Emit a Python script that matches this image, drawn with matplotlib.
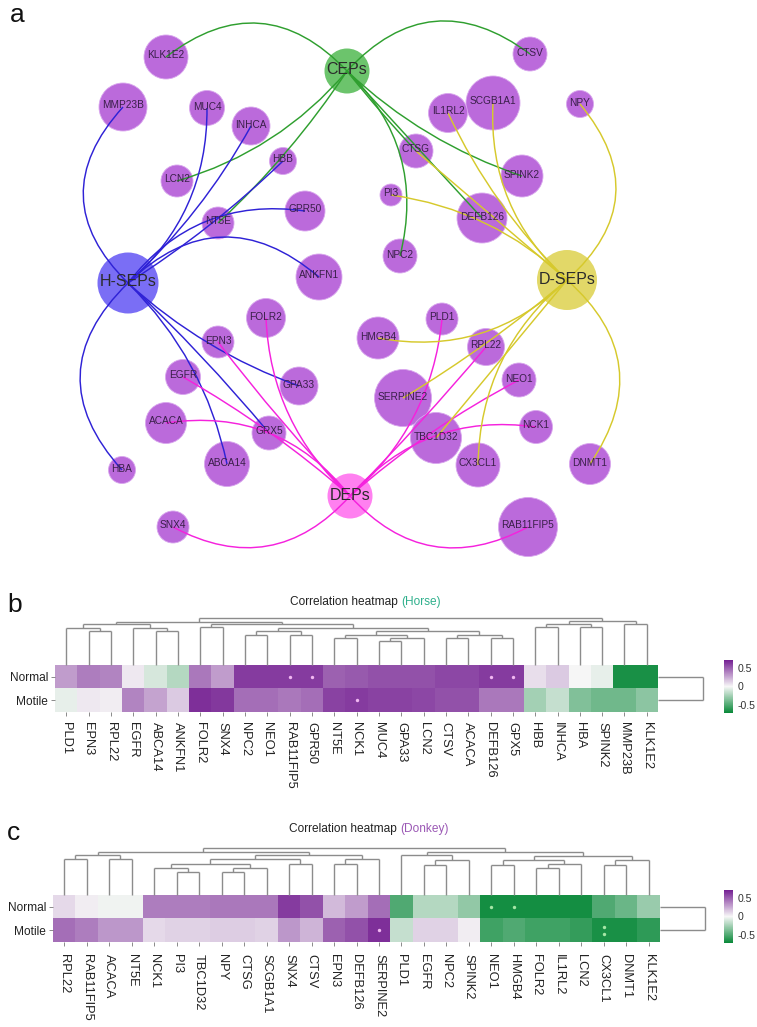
import numpy as np
import matplotlib
matplotlib.use('Agg')
import matplotlib.pyplot as plt
from matplotlib.path import Path
from matplotlib.patches import PathPatch, Circle
from matplotlib.colors import LinearSegmentedColormap

plt.rcParams['font.family'] = ['Liberation Sans', 'DejaVu Sans']

# ---------------- Panel a: network data ----------------
hub_names = ['CEPs', 'H-SEPs', 'D-SEPs', 'DEPs']
hub_x = [347, 128, 567, 350]
hub_y = [71, 283, 280, 496]
hub_r = [22.5, 30.5, 30, 22.5]
hub_fill = ['#6cc46c', '#7a6ef5', '#e2d868', '#ff80f0']
hub_edge_color = ['#2f9f2f', '#2f22d6', '#d6c92c', '#f522dd']

gene_names = ['KLK1E2', 'MMP23B', 'MUC4', 'INHCA', 'HBB', 'LCN2', 'GPR50', 'NT5E', 'ANKFN1',
              'CTSV', 'SCGB1A1', 'NPY', 'IL1RL2', 'CTSG', 'SPINK2', 'PI3', 'DEFB126', 'NPC2',
              'FOLR2', 'EPN3', 'EGFR', 'GPA33', 'ACACA', 'GRX5', 'ABCA14', 'HBA', 'SNX4',
              'PLD1', 'HMGB4', 'RPL22', 'NEO1', 'SERPINE2', 'NCK1', 'TBC1D32', 'CX3CL1',
              'DNMT1', 'RAB11FIP5']
gene_x = [166, 123, 207, 251, 283, 177, 305, 218, 319,
          530, 493, 580, 448, 416, 522, 391, 482, 400,
          266, 218, 183, 299, 166, 269, 227, 122, 173,
          442, 378, 486, 519, 403, 536, 436, 478,
          590, 528]
gene_y = [57, 107, 108, 126, 161, 181, 211, 223, 277,
          54, 103, 104, 113, 151, 176, 195, 218, 256,
          318, 342, 377, 386, 423, 433, 464, 470, 527,
          319, 338, 347, 380, 398, 427, 438, 465,
          464, 527]
gene_r = [22, 24, 17.5, 19, 13.5, 16, 20, 16, 23,
          17, 27, 13.5, 19.5, 17, 21, 11, 25, 17,
          19.5, 16, 17.5, 19, 20.5, 17, 22.5, 13.5, 16,
          16, 21, 18.5, 17, 28.5, 16.5, 25.5, 22,
          20.5, 29.5]
gene_fill = '#bb6adb'

edge_hub = (['CEPs'] * 8 + ['H-SEPs'] * 10 + ['DEPs'] * 10 + ['D-SEPs'] * 10)
edge_gene = ['KLK1E2', 'CTSV', 'LCN2', 'NT5E', 'CTSG', 'SPINK2', 'DEFB126', 'NPC2',
             'MMP23B', 'MUC4', 'INHCA', 'HBB', 'GPR50', 'ANKFN1', 'HBA', 'ABCA14', 'GRX5', 'GPA33',
             'SNX4', 'RAB11FIP5', 'FOLR2', 'EPN3', 'EGFR', 'ACACA', 'PLD1', 'RPL22', 'NEO1', 'NCK1',
             'NPY', 'DNMT1', 'IL1RL2', 'SCGB1A1', 'CTSG', 'PI3', 'HMGB4', 'SERPINE2', 'TBC1D32', 'CX3CL1']
edge_curv = [0.45, -0.45, -0.15, -0.06, 0.02, 0.11, 0.0, -0.29,
             -0.48, 0.23, 0.08, 0.05, -0.29, -0.45, 0.48, -0.15, -0.03, 0.10,
             -0.39, 0.39, -0.21, -0.03, 0.05, 0.29, 0.20, 0.02, -0.06, -0.27,
             0.48, -0.44, -0.09, -0.24, 0.0, 0.16, -0.26, -0.04, 0.0, 0.23]

# ---------------- Panel b: horse heatmap ----------------
horse_genes = ['PLD1', 'EPN3', 'RPL22', 'EGFR', 'ABCA14', 'ANKFN1', 'FOLR2', 'SNX4', 'NPC2',
               'NEO1', 'RAB11FIP5', 'GPR50', 'NT5E', 'NCK1', 'MUC4', 'GPA33', 'LCN2', 'CTSV',
               'ACACA', 'DEFB126', 'GPX5', 'HBB', 'INHCA', 'HBA', 'SPINK2', 'MMP23B', 'KLK1E2']
horse_normal = [0.30, 0.40, 0.38, 0.05, -0.10, -0.20, 0.42, 0.30, 0.62,
                0.62, 0.62, 0.62, 0.50, 0.52, 0.55, 0.55, 0.55, 0.58,
                0.58, 0.62, 0.62, 0.08, 0.15, 0.0, -0.05, -0.66, -0.66]
horse_motile = [-0.05, 0.05, 0.03, 0.38, 0.28, 0.15, 0.66, 0.63, 0.45,
                0.45, 0.42, 0.45, 0.60, 0.62, 0.60, 0.60, 0.58, 0.55,
                0.55, 0.42, 0.42, -0.25, -0.15, -0.35, -0.40, -0.40, -0.32]
horse_sig_normal = [''] * 10 + ['*', '*'] + [''] * 7 + ['*', '*'] + [''] * 6
horse_sig_motile = [''] * 13 + ['*'] + [''] * 13
horse_rows = ['Normal', 'Motile']
# linkage: (left, right, height); ids >= 27 refer to earlier merges
horse_link = [(1, 2, 0.71), (0, 27, 0.77), (4, 5, 0.71), (3, 29, 0.77), (28, 30, 0.86),
              (6, 7, 0.79), (8, 9, 0.64), (10, 11, 0.64), (33, 34, 0.71), (12, 13, 0.57),
              (14, 15, 0.50), (37, 16, 0.57), (36, 38, 0.64), (17, 18, 0.57), (19, 20, 0.57),
              (40, 41, 0.64), (39, 42, 0.71), (35, 43, 0.78), (32, 44, 0.86), (31, 45, 0.91),
              (21, 22, 0.79), (23, 24, 0.79), (47, 48, 0.86), (25, 26, 0.86), (49, 50, 0.93),
              (46, 51, 1.0)]

# ---------------- Panel c: donkey heatmap ----------------
donkey_genes = ['RPL22', 'RAB11FIP5', 'ACACA', 'NT5E', 'NCK1', 'PI3', 'TBC1D32', 'NPY', 'CTSG',
                'SCGB1A1', 'SNX4', 'CTSV', 'EPN3', 'DEFB126', 'SERPINE2', 'PLD1', 'EGFR', 'NPC2',
                'SPINK2', 'NEO1', 'HMGB4', 'FOLR2', 'IL1RL2', 'LCN2', 'CX3CL1', 'DNMT1', 'KLK1E2']
donkey_normal = [0.10, 0.03, -0.02, -0.02, 0.40, 0.40, 0.40, 0.42, 0.42,
                 0.42, 0.62, 0.55, 0.20, 0.30, 0.45, -0.50, -0.20, -0.20,
                 -0.30, -0.68, -0.68, -0.68, -0.68, -0.68, -0.50, -0.42, -0.28]
donkey_motile = [0.45, 0.40, 0.32, 0.32, 0.10, 0.12, 0.12, 0.14, 0.14,
                 0.12, 0.32, 0.22, 0.50, 0.55, 0.66, -0.15, 0.12, 0.12,
                 0.03, -0.55, -0.50, -0.55, -0.55, -0.58, -0.66, -0.66, -0.60]
donkey_sig_normal = [''] * 19 + ['*', '*'] + [''] * 6
donkey_sig_motile = [''] * 14 + ['*'] + [''] * 9 + ['**'] + [''] * 2
donkey_link = [(0, 1, 0.75), (2, 3, 0.75), (27, 28, 0.84), (5, 6, 0.49), (4, 30, 0.57),
               (7, 8, 0.49), (32, 9, 0.57), (31, 33, 0.66), (10, 11, 0.66), (34, 35, 0.75),
               (12, 13, 0.66), (37, 14, 0.75), (36, 38, 0.84), (29, 39, 0.91), (16, 17, 0.64),
               (41, 18, 0.73), (15, 42, 0.84), (19, 20, 0.64), (21, 22, 0.56), (45, 23, 0.66),
               (44, 46, 0.73), (24, 25, 0.64), (48, 26, 0.73), (47, 49, 0.82), (43, 50, 0.91),
               (40, 51, 1.0)]
row_link = [(0, 1, 1.0)]

cbar_ticks = [0.5, 0, -0.5]
cbar_labels = ['0.5', '0', '-0.5']
vlim = 0.72

# ---------------- figure ----------------
W, H = 757, 1027
fig = plt.figure(figsize=(W / 100, H / 100), dpi=100)


def px_axes(x0, y0, x1, y1):
    return fig.add_axes([x0 / W, 1 - y1 / H, (x1 - x0) / W, (y1 - y0) / H])


# ---- network ----
axn = px_axes(0, 0, W, 570)
axn.set_xlim(0, W)
axn.set_ylim(570, 0)
axn.axis('off')

pos = {}
for n, x, y in zip(hub_names, hub_x, hub_y):
    pos[n] = (x, y)
for n, x, y in zip(gene_names, gene_x, gene_y):
    pos[n] = (x, y)

for n, x, y, r in zip(gene_names, gene_x, gene_y, gene_r):
    axn.add_patch(Circle((x, y), r, fc=gene_fill, ec='#d9a6ee', lw=0.6, zorder=1))
for n, x, y, r, c in zip(hub_names, hub_x, hub_y, hub_r, hub_fill):
    axn.add_patch(Circle((x, y), r, fc=c, ec='none', zorder=1))

hub_col = dict(zip(hub_names, hub_edge_color))
for h, g, cv in zip(edge_hub, edge_gene, edge_curv):
    x0, y0 = pos[h]
    x1, y1 = pos[g]
    dx, dy = x1 - x0, y1 - y0
    mx, my = (x0 + x1) / 2, (y0 + y1) / 2
    cx, cy = mx + cv * (-dy), my + cv * dx
    p = Path([(x0, y0), (cx, cy), (x1, y1)], [Path.MOVETO, Path.CURVE3, Path.CURVE3])
    axn.add_patch(PathPatch(p, fc='none', ec=hub_col[h], lw=1.05, zorder=3))

for n, x, y in zip(gene_names, gene_x, gene_y):
    axn.text(x, y - 1.5, n, ha='center', va='center', fontsize=7.3, color='#3a1f4a', zorder=4)
for n, x, y in zip(hub_names, hub_x, hub_y):
    axn.text(x, y - 1, n, ha='center', va='center', fontsize=11.5, color='#2b2b2b', zorder=4)

# ---- heatmaps ----
cmap = LinearSegmentedColormap.from_list('gw p', ['#078838', '#f7f7f7', '#741f92'])
dendro_color = '#8c8c8c'


def draw_dendro(ax, link, n, orient='top'):
    xs = {i: float(i) for i in range(n)}
    hs = {i: 0.0 for i in range(n)}
    for k, (a, b, h) in enumerate(link):
        cid = n + k
        for seg in ([(xs[a], hs[a]), (xs[a], h)], [(xs[b], hs[b]), (xs[b], h)],
                    [(xs[a], h), (xs[b], h)]):
            (p0, q0), (p1, q1) = seg
            if orient == 'top':
                ax.plot([p0, p1], [q0, q1], color=dendro_color, lw=1.0, clip_on=False,
                        solid_capstyle='butt')
            else:
                ax.plot([q0, q1], [p0, p1], color=dendro_color, lw=1.0, clip_on=False,
                        solid_capstyle='butt')
        xs[cid] = (xs[a] + xs[b]) / 2
        hs[cid] = h


def heat_panel(genes, normal, motile, sig_n, sig_m, link, hx0, hx1, hy0, hy1, title_y,
               title_word, title_color, split_x, label_pad, letter, letter_y):
    data = np.array([normal, motile])
    n = len(genes)
    ax = px_axes(hx0, hy0, hx1, hy1)
    ax.imshow(data, cmap=cmap, vmin=-vlim, vmax=vlim, aspect='auto', interpolation='nearest')
    ax.set_xticks(range(n))
    ax.set_xticklabels(genes, rotation=-90, fontsize=9.3, color='#222222', va='top', ha='center')
    ax.set_yticks([0, 1])
    ax.set_yticklabels(horse_rows, fontsize=8.6, color='#222222')
    ax.tick_params(axis='x', length=3, width=0.6, color='#777777', pad=label_pad)
    ax.tick_params(axis='y', length=3, width=0.6, color='#777777', pad=2)
    for s in ax.spines.values():
        s.set_visible(False)
    for row, sig, vals in ((0, sig_n, normal), (1, sig_m, motile)):
        for j, s in enumerate(sig):
            if not s:
                continue
            k = len(s)
            offs = [0.0] if k == 1 else [-0.14, 0.14]
            col = '#f2b8f2' if vals[j] >= 0 else '#a6e6a6'
            ax.scatter([j] * k, [row + o for o in offs], s=6, color=col, zorder=3, lw=0)

    # column dendrogram
    dh = hy0 - 47.5
    axd = px_axes(hx0, dh, hx1, hy0)
    axd.set_xlim(-0.5, n - 0.5)
    axd.set_ylim(0, 1.0)
    axd.axis('off')
    draw_dendro(axd, link, n, 'top')

    # row dendrogram
    axr = px_axes(hx1, hy0, hx1 + 45, hy1)
    axr.set_ylim(1.5, -0.5)
    axr.set_xlim(0, 1.0)
    axr.axis('off')
    draw_dendro(axr, row_link, 2, 'right')

    # colorbar
    cax = px_axes(724, hy0 - 5, 733, hy1 + 1)
    sm = plt.cm.ScalarMappable(cmap=cmap, norm=plt.Normalize(-vlim, vlim))
    cb = fig.colorbar(sm, cax=cax)
    cb.outline.set_visible(False)
    cb.set_ticks(cbar_ticks)
    cb.set_ticklabels(cbar_labels)
    cax.tick_params(length=0, labelsize=7.6, pad=3, labelcolor='#333333')

    fig.text(split_x / W, 1 - title_y / H, 'Correlation heatmap', ha='right', va='center',
             fontsize=8.6, color='#222222')
    fig.text((split_x + 4) / W, 1 - title_y / H, title_word, ha='left', va='center',
             fontsize=8.6, color=title_color)
    fig.text(7 / W, 1 - letter_y / H, letter, ha='left', va='baseline', fontsize=19,
             color='#111111')


heat_panel(horse_genes, horse_normal, horse_motile, horse_sig_normal, horse_sig_motile,
           horse_link, 55, 658, 665, 712, 602, '(Horse)', '#2fb08c', 397.5, 4.5, 'b', 612)
heat_panel(donkey_genes, donkey_normal, donkey_motile, donkey_sig_normal, donkey_sig_motile,
           donkey_link, 53, 660, 895, 942, 829, '(Donkey)', '#9b58b5', 396.5, 5.5, 'c', 840)

fig.text(10 / W, 1 - 22 / H, 'a', ha='left', va='baseline', fontsize=19, color='#111111')

fig.savefig('out.png', dpi=100)
